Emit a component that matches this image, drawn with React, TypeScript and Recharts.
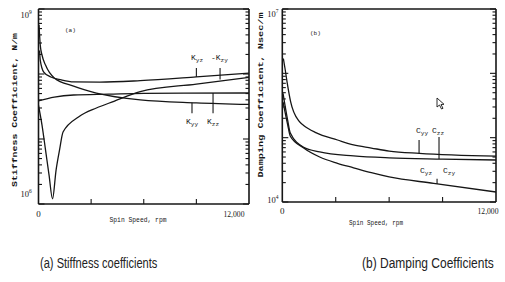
import React from 'react'
import { LineChart, Line, XAxis, YAxis, ReferenceLine } from 'recharts'

// ─── values (rpm, coefficient) ───────────────────────────────────
// (a) stiffness, N/m
const kyyRpm = [30, 100, 200, 400, 900, 2000, 3300, 5800, 9000, 12000]
const kyyVal = [5.7e8, 2.8e8, 1.96e8, 1.37e8, 8.7e7, 6.5e7, 5.1e7, 4.0e7, 3.6e7, 3.4e7]

const kzzRpm = [0, 900, 2000, 4000, 6000, 12000]
const kzzVal = [3.85e7, 4.4e7, 4.75e7, 4.9e7, 5.05e7, 5.1e7]

const kyzRpm = [60, 100, 300, 700, 1300, 2000, 3500, 5800, 9000, 12000]
const kyzVal = [2.3e8, 1.64e8, 1.07e8, 9.0e7, 8.1e7, 7.55e7, 7.5e7, 7.9e7, 9.0e7, 1.03e8]

const kzyRpm = [0, 200, 400, 600, 800, 1000, 1200, 1400, 2300, 3300, 4300, 5800, 9000, 12000]
const kzyVal = [3.3e7, 1.64e7, 6.8e6, 2.8e6, 1.2e6, 3.3e6, 6.8e6, 1.28e7, 2.2e7, 3.0e7, 3.8e7, 5.35e7, 7.0e7, 8.9e7]

// (b) damping, N·sec/m
const cyyRpm = [60, 150, 280, 470, 940, 1200, 1880, 3100, 4000, 5000, 6000, 7700, 12000]
const cyyVal = [1.7e6, 1.2e6, 7.0e5, 3.6e5, 1.8e5, 1.55e5, 1.2e5, 9.2e4, 7.7e4, 6.9e4, 6.2e4, 5.7e4, 5.15e4]

const czzRpm = [40, 300, 450, 1200, 2100, 4000, 6000, 9000, 12000]
const czzVal = [4.9e5, 1.87e5, 1.18e5, 7.1e4, 6.0e4, 5.2e4, 4.85e4, 4.65e4, 4.5e4]

const cyzRpm = [40, 300, 450, 1200, 2100, 3100, 4000, 5000, 6000, 8500, 12000]
const cyzVal = [3.6e5, 1.6e5, 1.05e5, 6.9e4, 5.0e4, 4.0e4, 3.4e4, 2.85e4, 2.45e4, 1.95e4, 1.43e4]

// axes
const RPM_TICKS = [0, 3000, 6000, 9000, 12000]
const LEFT_DECADES = [6, 7, 8, 9]
const RIGHT_DECADES = [4, 5, 6, 7]

const pts = (rpm: number[], val: number[]) => rpm.map((r, i) => ({ rpm: r, v: val[i] }))

function logTicks(decades: number[]) {
  const out: number[] = []
  for (let i = 0; i < decades.length - 1; i++) {
    for (let m = 1; m < 10; m++) out.push(m * Math.pow(10, decades[i]))
  }
  out.push(Math.pow(10, decades[decades.length - 1]))
  return out
}

const INK = '#161616'
const SERIF = '"Liberation Serif", serif'
const MONO = '"Liberation Mono", "DejaVu Sans Mono", monospace'
const SANS = '"Liberation Sans", Arial, sans-serif'

// ─── tick renderers (ticks point into the box) ───────────────────
function leftTick(lo: number, hi: number, labelDx: number, topDy: number, botDy: number) {
  return (props: any) => {
    const { x, y, payload } = props
    const e = Math.log10(payload.value)
    const major = Math.abs(e - Math.round(e)) < 1e-6
    const exp = Math.round(e)
    const showLabel = major && (exp === lo || exp === hi)
    return (
      <g>
        <line x1={x} y1={y} x2={x + (major ? 6 : 3.5)} y2={y} stroke={INK} strokeWidth={1.1} />
        {showLabel && (
          <text x={x + labelDx} y={y + (exp === hi ? topDy : botDy)} fontFamily={SERIF} fontSize={8.5} fill={INK}>
            10<tspan dy={-4} fontSize={5.5}>{exp}</tspan>
          </text>
        )}
      </g>
    )
  }
}

const rightTick = (props: any) => {
  const { x, y, payload } = props
  const e = Math.log10(payload.value)
  const major = Math.abs(e - Math.round(e)) < 1e-6
  return <line x1={x} y1={y} x2={x - (major ? 6 : 3.5)} y2={y} stroke={INK} strokeWidth={1.1} />
}

function bottomTick(endDx: number, dy: number) {
  return (props: any) => {
    const { x, y, payload } = props
    const v = payload.value
    return (
      <g>
        {v > 0 && v < 12000 && <line x1={x} y1={y} x2={x} y2={y - 5} stroke={INK} strokeWidth={1.1} />}
        {v === 0 && (
          <text x={x} y={y + dy} textAnchor="middle" fontFamily={SERIF} fontSize={9} fill={INK}>0</text>
        )}
        {v === 12000 && (
          <text x={x + endDx} y={y + dy} textAnchor="middle" fontFamily={SERIF} fontSize={9} fill={INK}
            transform={`translate(${x + endDx} 0) scale(0.85 1) translate(${-(x + endDx)} 0)`}>12,000</text>
        )}
      </g>
    )
  }
}

const topTick = (props: any) => {
  const { x, y, payload } = props
  if (payload.value <= 0 || payload.value >= 12000) return <g />
  return <line x1={x} y1={y} x2={x} y2={y + 5} stroke={INK} strokeWidth={1.1} />
}

function Curve({ data }: { data: { rpm: number; v: number }[] }) {
  return (
    <Line data={data} dataKey="v" type="monotone" stroke={INK} strokeWidth={1.3}
      dot={false} activeDot={false} isAnimationActive={false} />
  )
}

// ─── charts ──────────────────────────────────────────────────────
function StiffnessChart() {
  const yt = logTicks(LEFT_DECADES)
  return (
    <LineChart width={260} height={232} margin={{ top: 8, right: 10, bottom: 8, left: 8 }}>
      <XAxis dataKey="rpm" type="number" domain={[0, 12000]} ticks={RPM_TICKS} interval={0}
        height={20} tickSize={0} tickMargin={0} tick={bottomTick(-15, 13)}
        axisLine={{ stroke: INK, strokeWidth: 1.6 }} tickLine={false} allowDataOverflow />
      <XAxis xAxisId="top" orientation="top" type="number" domain={[0, 12000]} ticks={RPM_TICKS} interval={0}
        height={1} tickSize={0} tickMargin={0} tick={topTick}
        axisLine={{ stroke: INK, strokeWidth: 1.6 }} tickLine={false} allowDataOverflow />
      <YAxis scale="log" type="number" domain={[1e6, 1e9]} ticks={yt} interval={0} allowDataOverflow
        width={30.5} tickSize={0} tickMargin={0} tick={leftTick(6, 9, -18, 9, -7)}
        axisLine={{ stroke: INK, strokeWidth: 1.6 }} tickLine={false} />
      <YAxis yAxisId="r" orientation="right" scale="log" type="number" domain={[1e6, 1e9]} ticks={yt}
        interval={0} allowDataOverflow width={1} tickSize={0} tickMargin={0} tick={rightTick}
        axisLine={{ stroke: INK, strokeWidth: 1.6 }} tickLine={false} />
      <Curve data={pts(kyyRpm, kyyVal)} />
      <Curve data={pts(kzzRpm, kzzVal)} />
      <Curve data={pts(kyzRpm, kyzVal)} />
      <Curve data={pts(kzyRpm, kzyVal)} />
      <ReferenceLine segment={[{ x: 9000, y: 1.24e8 }, { x: 9000, y: 9.0e7 }]} stroke={INK} strokeWidth={1.1} />
      <ReferenceLine segment={[{ x: 10350, y: 1.24e8 }, { x: 10350, y: 8.2e7 }]} stroke={INK} strokeWidth={1.1} />
      <ReferenceLine segment={[{ x: 8750, y: 3.6e7 }, { x: 8750, y: 2.5e7 }]} stroke={INK} strokeWidth={1.1} />
      <ReferenceLine segment={[{ x: 9950, y: 5.1e7 }, { x: 9950, y: 2.5e7 }]} stroke={INK} strokeWidth={1.1} />
    </LineChart>
  )
}

function DampingChart() {
  const yt = logTicks(RIGHT_DECADES)
  return (
    <LineChart width={255} height={232} margin={{ top: 8, right: 8, bottom: 10, left: 8 }}>
      <XAxis dataKey="rpm" type="number" domain={[0, 12000]} ticks={RPM_TICKS} interval={0}
        height={20} tickSize={0} tickMargin={0} tick={bottomTick(-8, 12)}
        axisLine={{ stroke: INK, strokeWidth: 1.6 }} tickLine={false} allowDataOverflow />
      <XAxis xAxisId="top" orientation="top" type="number" domain={[0, 12000]} ticks={RPM_TICKS} interval={0}
        height={1} tickSize={0} tickMargin={0} tick={topTick}
        axisLine={{ stroke: INK, strokeWidth: 1.6 }} tickLine={false} allowDataOverflow />
      <YAxis scale="log" type="number" domain={[1e4, 1e7]} ticks={yt} interval={0} allowDataOverflow
        width={24.3} tickSize={0} tickMargin={0} tick={leftTick(4, 7, -15, 8, 1)}
        axisLine={{ stroke: INK, strokeWidth: 1.6 }} tickLine={false} />
      <YAxis yAxisId="r" orientation="right" scale="log" type="number" domain={[1e4, 1e7]} ticks={yt}
        interval={0} allowDataOverflow width={1} tickSize={0} tickMargin={0} tick={rightTick}
        axisLine={{ stroke: INK, strokeWidth: 1.6 }} tickLine={false} />
      <Curve data={pts(cyyRpm, cyyVal)} />
      <Curve data={pts(czzRpm, czzVal)} />
      <Curve data={pts(cyzRpm, cyzVal)} />
      <ReferenceLine segment={[{ x: 7680, y: 9.2e4 }, { x: 7680, y: 5.7e4 }]} stroke={INK} strokeWidth={1.1} />
      <ReferenceLine segment={[{ x: 8800, y: 1.02e5 }, { x: 8800, y: 4.65e4 }]} stroke={INK} strokeWidth={1.1} />
      <ReferenceLine segment={[{ x: 8690, y: 2.3e4 }, { x: 8690, y: 1.9e4 }]} stroke={INK} strokeWidth={1.1} />
    </LineChart>
  )
}

function Sub({ x, y, main, sub }: { x: number; y: number; main: string; sub: string }) {
  return (
    <text x={x} y={y} fontFamily={MONO} fontSize={8} fill={INK}>
      {main}<tspan dy={2} fontSize={6}>{sub}</tspan>
    </text>
  )
}

export default function App() {
  return (
    <div style={{ position: 'absolute', left: 0, top: 0, width: 505, height: 282, background: '#fff', overflow: 'hidden' }}>
      <div style={{ position: 'absolute', left: 0, top: 0 }}>
        <StiffnessChart />
      </div>
      <div style={{ position: 'absolute', left: 250, top: 0 }}>
        <DampingChart />
      </div>
      <svg width={505} height={282} style={{ position: 'absolute', left: 0, top: 0, pointerEvents: 'none' }}>
        {/* axis titles */}
        <text x={0} y={0} transform="translate(17 110) rotate(-90)" textAnchor="middle" fontFamily={MONO}
          fontWeight="bold" fontSize={8} fill={INK} textLength={154} lengthAdjust="spacingAndGlyphs">
          Stiffness Coefficient, N/m
        </text>
        <text x={0} y={0} transform="translate(263 95) rotate(-90)" textAnchor="middle" fontFamily={MONO}
          fontWeight="bold" fontSize={8} fill={INK} textLength={165} lengthAdjust="spacingAndGlyphs">
          Damping Coefficient, Nsec/m
        </text>
        <text x={138} y={222} textAnchor="middle" fontFamily={MONO} fontSize={6.5} fill={INK}
          textLength={57} lengthAdjust="spacingAndGlyphs">Spin Speed, rpm</text>
        <text x={376} y={225} textAnchor="middle" fontFamily={MONO} fontSize={6.5} fill={INK}
          textLength={54} lengthAdjust="spacingAndGlyphs">Spin Speed, rpm</text>

        {/* panel tags */}
        <text x={65} y={32} fontFamily={MONO} fontSize={6} fill={INK}>(a)</text>
        <text x={310} y={35} fontFamily={MONO} fontSize={6} fill={INK}>(b)</text>

        {/* curve labels */}
        <Sub x={191} y={60} main="K" sub="yz" />
        <Sub x={211} y={60} main="-K" sub="zy" />
        <Sub x={186} y={124} main="K" sub="yy" />
        <Sub x={207} y={124} main="K" sub="zz" />
        <Sub x={416} y={133} main="C" sub="yy" />
        <Sub x={432} y={133} main="C" sub="zz" />
        <Sub x={420} y={173} main="C" sub="yz" />
        <Sub x={443} y={173} main="C" sub="zy" />

        {/* mouse pointer captured in the scan */}
        <path d="M437 98 L437 107 L439.5 105 L441.5 109 L443 108.3 L441 104.5 L444 104.3 Z"
          fill="#fff" stroke={INK} strokeWidth={0.9} />

        {/* captions, horizontally condensed like the scan */}
        <g transform="translate(40 268) scale(0.74 1)">
          <text x={0} y={0} fontFamily={SANS} fontSize={15} fill="#222">(a) Stiffness coefficients</text>
        </g>
        <g transform="translate(362 268) scale(0.8 1)">
          <text x={0} y={0} fontFamily={SANS} fontSize={15} fill="#222">(b) Damping Coefficients</text>
        </g>
      </svg>
    </div>
  )
}
